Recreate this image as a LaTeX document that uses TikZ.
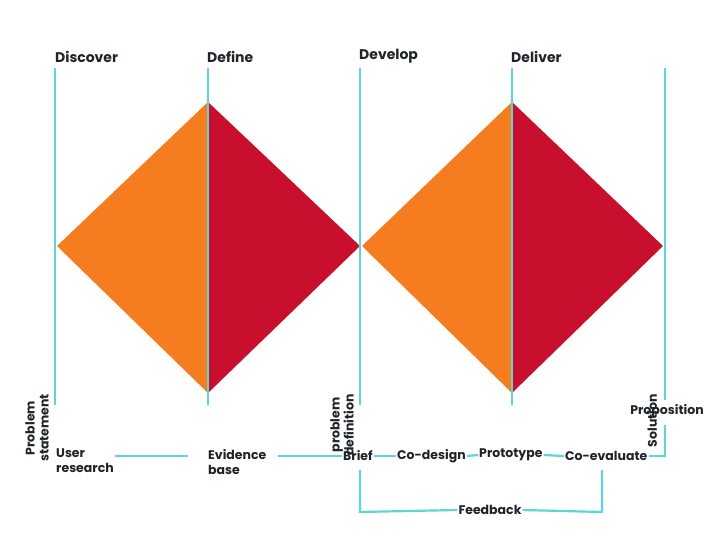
\documentclass[tikz,border=0pt]{standalone}
\usepackage{fontspec}
\setmainfont{Poppins}
\definecolor{cyanl}{HTML}{5CD6D6}
\definecolor{orng}{HTML}{F57C1F}
\definecolor{redd}{HTML}{C8102E}
\definecolor{txt}{HTML}{1E2428}
\begin{document}
\begin{tikzpicture}[x=1pt,y=-1pt,
  vline/.style={cyanl,line width=2.2pt},
  head/.style={font=\fontsize{14}{16}\selectfont\bfseries,text=txt,anchor=south west,inner sep=0},
  lab/.style={font=\fontsize{12.5}{15}\selectfont\bfseries,text=txt,inner sep=1pt,align=left},
  rlab/.style={font=\fontsize{12.5}{14}\selectfont\bfseries,text=txt,rotate=90,anchor=east,align=center,inner sep=0}]
\useasboundingbox (0,0) rectangle (720,540);
\fill[white] (0,0) rectangle (720,540);
% diamonds
\fill[orng] (57,246) -- (208,102) -- (208,393) -- cycle;
\fill[redd] (208,102) -- (360,246) -- (208,393) -- cycle;
\fill[orng] (362,246) -- (512,102) -- (512,393) -- cycle;
\fill[redd] (512,102) -- (663,246) -- (512,393) -- cycle;
% vertical lines
\foreach \x in {55,208,360,512}{\draw[vline] (\x,68) -- (\x,405);}
\draw[vline] (665,68) -- (665,400);
% headings
\node[head] (h1) at (55,63) {Discover};
\node[head] (h2) at (207,63) {Define};
\node[head] (h3) at (359,63) {Develop};
\node[head] (h4) at (511,63) {Deliver};
% rotated labels
\node[rlab] (ps) at (37,394) {Problem\\statement};
\node[rlab] (pd) at (342,394) {problem\\definition};
\node[rlab] (so) at (652,394) {Solution};
\node[lab,anchor=center] (pr) at (667,411) {Proposition};
% bottom row
\node[lab,anchor=north west] (ur) at (55,448) {User\\research};
\node[lab,anchor=north west] (eb) at (207,448) {Evidence\\base};
\node[lab,anchor=west] (br) at (342,456) {Brief};
\node[lab,anchor=west] (cd) at (396,456) {Co-design};
\node[lab,anchor=west] (pt) at (478,455) {Prototype};
\node[lab,anchor=west] (ce) at (564,456) {Co-evaluate};
\node[lab,anchor=center] (fb) at (490,510) {Feedback};
\coordinate (u1) at (115,456); \coordinate (u2) at (188,456);
\draw[vline] (u1) -- (u2);
\draw[vline] (278,456) -- (br.west);
\draw[vline] (br.east) -- (cd.west);
\draw[vline] (cd.east) -- (pt.west);
\draw[vline] (pt.east) -- (ce.west);
\draw[vline] (ce.east) -- (665,456) -- (665,425);
\draw[vline] (360,470) -- (360,512) -- (fb.west);
\draw[vline] (fb.east) -- (602,512) -- (602,470);
\end{tikzpicture}
\end{document}
